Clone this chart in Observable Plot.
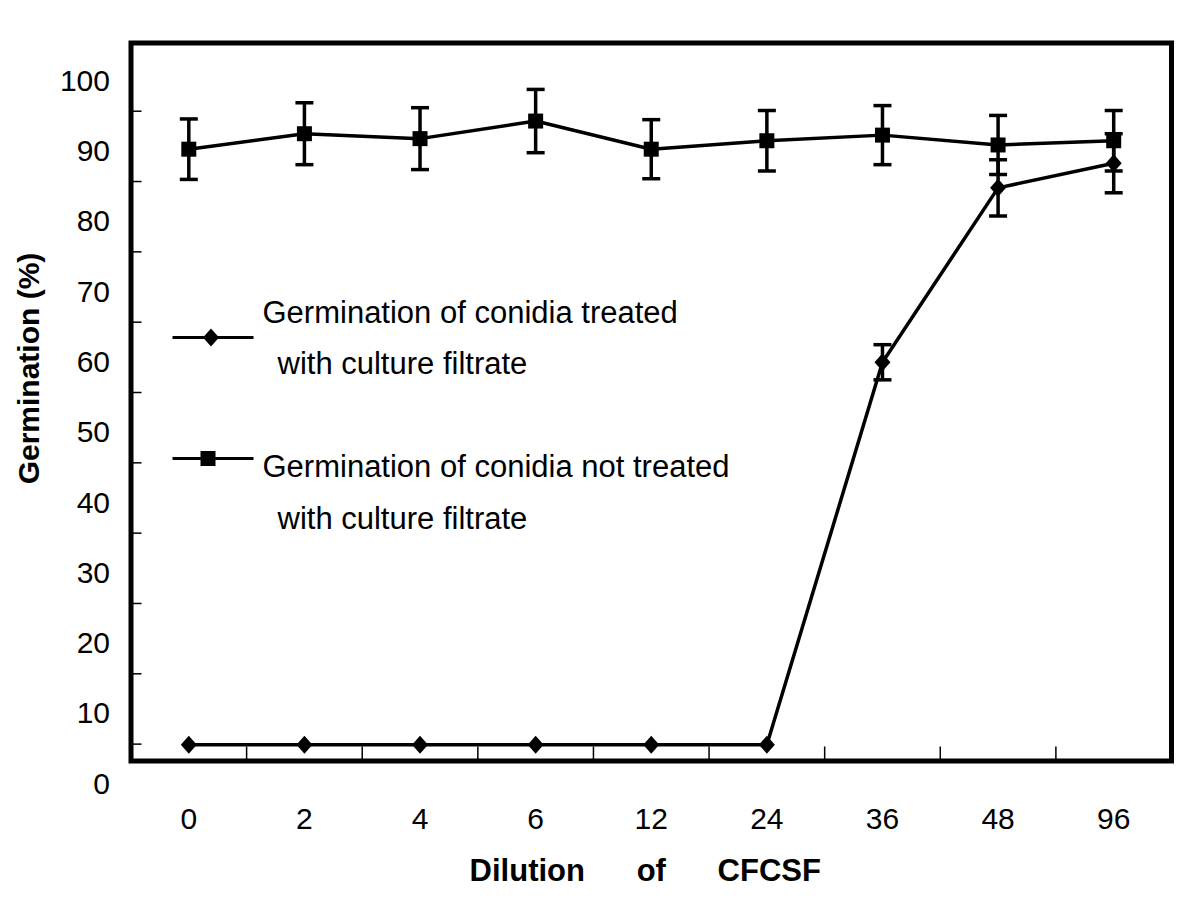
<!DOCTYPE html>
<html>
<head>
<meta charset="utf-8">
<script src="https://cdn.jsdelivr.net/npm/d3@7"></script>
<script src="https://cdn.jsdelivr.net/npm/@observablehq/plot@0.6"></script>
<style>
  html, body { margin: 0; padding: 0; background: #fff; }
  #chart svg { display: block; }
</style>
</head>
<body>
<div id="chart"></div>
<script>
// ---- Data ----
const dilutions = ["0", "2", "4", "6", "12", "24", "36", "48", "96"];
const notTreated    = [90.3, 92.5, 91.8, 94.3, 90.3, 91.5, 92.3, 90.9, 91.5];
const notTreatedErr = [4.3, 4.4, 4.4, 4.5, 4.2, 4.3, 4.2, 4.2, 4.3];
const treated       = [5.6, 5.6, 5.6, 5.6, 5.6, 5.6, 60.0, 84.8, 88.3];
const treatedErr    = [0, 0, 0, 0, 0, 0, 2.5, 4.0, 4.2];
const yLabels = [0, 10, 20, 30, 40, 50, 60, 70, 80, 90, 100];
const yTickMarks = [5.7, 15.7, 25.7, 35.7, 45.7, 55.7, 65.7, 75.7, 85.7, 95.7];
const xTickMarks = [0.5, 1.5, 2.5, 3.5, 4.5, 5.5, 6.5, 7.5];
const legendTreated = ["Germination of conidia treated", "with culture filtrate"];
const legendNotTreated = ["Germination of conidia not treated", "with culture filtrate"];
const yTitle = "Germination (%)";
const xTitle = "Dilution\u00A0\u00A0\u00A0\u00A0\u00A0\u00A0of\u00A0\u00A0\u00A0\u00A0\u00A0\u00A0CFCSF";

// ---- Layout ----
const W = 1200, H = 898;
const mL = 130.5, mR = 29, mT = 42.5, mB = 137.5;
const frameW = W - mL - mR, frameH = H - mT - mB;
const yDomain = [3.3, 105.4];
const font = "'Liberation Sans', Arial, Helvetica, sans-serif";

const rows = dilutions.map((d, i) => ({
  i, d,
  nt: notTreated[i], ntErr: notTreatedErr[i],
  t: treated[i], tErr: treatedErr[i]
}));

const errRowsNT = rows.filter(r => r.ntErr > 0).map(r => ({i: r.i, lo: r.nt - r.ntErr, hi: r.nt + r.ntErr}));
const errRowsT  = rows.filter(r => r.tErr > 0).map(r => ({i: r.i, lo: r.t - r.tErr, hi: r.t + r.tErr}));
const errRows = errRowsNT.concat(errRowsT);
const caps = errRows.flatMap(r => [{i: r.i, y: r.lo}, {i: r.i, y: r.hi}]);

// ---- Custom symbols ----
const squareSym = {draw(ctx) { const s = 7.5; ctx.moveTo(-s, -s); ctx.lineTo(s, -s); ctx.lineTo(s, s); ctx.lineTo(-s, s); ctx.closePath(); }};
const diamondSym = {draw(ctx) { const w = 8, h = 9; ctx.moveTo(0, -h); ctx.lineTo(w, 0); ctx.lineTo(0, h); ctx.lineTo(-w, 0); ctx.closePath(); }};
const capSym = {draw(ctx) { const w = 9; ctx.moveTo(-w, 0); ctx.lineTo(w, 0); }};
const legendLineSym = {draw(ctx) { const w = 40.5; ctx.moveTo(-w, 0); ctx.lineTo(w, 0); }};

const chart = Plot.plot({
  width: W, height: H,
  marginLeft: mL, marginRight: mR, marginTop: mT, marginBottom: mB,
  x: {type: "linear", domain: [-0.5, 8.5], axis: null},
  y: {type: "linear", domain: yDomain, axis: null},
  style: {fontFamily: font, fontSize: "30px", background: "#fff", color: "#000"},
  marks: [
    // inward tick marks
    Plot.tickY(yTickMarks, {y: d => d, insetRight: frameW - 11, stroke: "#000", strokeWidth: 1.5}),
    Plot.tickX(xTickMarks, {x: d => d, insetTop: frameH - 14, stroke: "#000", strokeWidth: 1.5}),
    // tick labels
    Plot.text(yLabels, {y: d => d, text: d => String(d), frameAnchor: "left", textAnchor: "end", lineAnchor: "middle", dx: -21, fontSize: 30, fill: "#000"}),
    Plot.text(dilutions, {x: (d, i) => i, text: d => d, frameAnchor: "bottom", lineAnchor: "middle", dy: 58, fontSize: 30, fill: "#000"}),
    // axis titles
    Plot.text([yTitle], {text: d => d, frameAnchor: "left", dx: -101.5, dy: -33.5, rotate: -90, textAnchor: "middle", lineAnchor: "middle", fontSize: 30, fontWeight: "bold", fill: "#000"}),
    Plot.text([xTitle], {text: d => d, frameAnchor: "bottom", dx: -6, dy: 119.5, textAnchor: "middle", lineAnchor: "bottom", fontSize: 31, fontWeight: "bold", fill: "#000"}),
    // error bars
    Plot.ruleX(errRows, {x: "i", y1: "lo", y2: "hi", stroke: "#000", strokeWidth: 3.5}),
    Plot.dot(caps, {x: "i", y: "y", symbol: capSym, fill: "none", stroke: "#000", strokeWidth: 3.5}),
    // lines
    Plot.line(rows, {x: "i", y: "nt", stroke: "#000", strokeWidth: 3.5}),
    Plot.line(rows, {x: "i", y: "t", stroke: "#000", strokeWidth: 3.5}),
    // markers
    Plot.dot(rows, {x: "i", y: "nt", symbol: squareSym, fill: "#000", stroke: "none"}),
    Plot.dot(rows, {x: "i", y: "t", symbol: diamondSym, fill: "#000", stroke: "none"}),
    // legend (inside plot area)
    Plot.dot([0], {frameAnchor: "top-left", dx: 82, dy: 294.5, symbol: legendLineSym, fill: "none", stroke: "#000", strokeWidth: 3}),
    Plot.dot([0], {frameAnchor: "top-left", dx: 80, dy: 294.5, symbol: diamondSym, fill: "#000", stroke: "none"}),
    Plot.text([legendTreated[0]], {text: d => d, frameAnchor: "top-left", dx: 131.5, dy: 279.5, textAnchor: "start", lineAnchor: "bottom", fontSize: 31, fill: "#000"}),
    Plot.text([legendTreated[1]], {text: d => d, frameAnchor: "top-left", dx: 146.5, dy: 330.5, textAnchor: "start", lineAnchor: "bottom", fontSize: 31, fill: "#000"}),
    Plot.dot([0], {frameAnchor: "top-left", dx: 82, dy: 415.5, symbol: legendLineSym, fill: "none", stroke: "#000", strokeWidth: 3}),
    Plot.dot([0], {frameAnchor: "top-left", dx: 77, dy: 415.5, symbol: squareSym, fill: "#000", stroke: "none"}),
    Plot.text([legendNotTreated[0]], {text: d => d, frameAnchor: "top-left", dx: 131.5, dy: 433.5, textAnchor: "start", lineAnchor: "bottom", fontSize: 31, fill: "#000"}),
    Plot.text([legendNotTreated[1]], {text: d => d, frameAnchor: "top-left", dx: 146.5, dy: 485.5, textAnchor: "start", lineAnchor: "bottom", fontSize: 31, fill: "#000"}),
    // frame
    Plot.frame({stroke: "#000", strokeWidth: 5})
  ]
});
document.getElementById("chart").appendChild(chart);
</script>
</body>
</html>
